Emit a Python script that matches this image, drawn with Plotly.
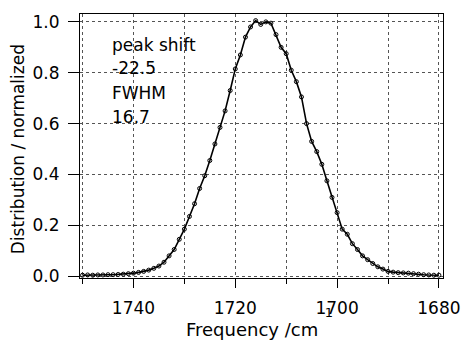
import plotly.graph_objects as go

freq = [1750, 1749, 1748, 1747, 1746, 1745, 1744, 1743, 1742, 1741,
        1740, 1739, 1738, 1737, 1736, 1735, 1734, 1733, 1732, 1731,
        1730, 1729, 1728, 1727, 1726, 1725, 1724, 1723, 1722, 1721,
        1720, 1719, 1718, 1717, 1716, 1715, 1714, 1713, 1712, 1711,
        1710, 1709, 1708, 1707, 1706, 1705, 1704, 1703, 1702, 1701,
        1700, 1699, 1698, 1697, 1696, 1695, 1694, 1693, 1692, 1691,
        1690, 1689, 1688, 1687, 1686, 1685, 1684, 1683, 1682, 1681, 1680]
dist = [0.004, 0.005, 0.004, 0.005, 0.005, 0.006, 0.006, 0.007, 0.008, 0.010,
        0.012, 0.015, 0.019, 0.024, 0.031, 0.040, 0.055, 0.080, 0.105, 0.145,
        0.185, 0.235, 0.285, 0.345, 0.395, 0.455, 0.520, 0.585, 0.650, 0.730,
        0.815, 0.870, 0.940, 0.980, 1.005, 0.990, 1.000, 0.995, 0.950, 0.900,
        0.875, 0.810, 0.765, 0.705, 0.600, 0.530, 0.490, 0.440, 0.375, 0.310,
        0.250, 0.185, 0.165, 0.128, 0.105, 0.080, 0.065, 0.050, 0.037, 0.028,
        0.019, 0.016, 0.014, 0.013, 0.012, 0.010, 0.008, 0.006, 0.005, 0.004, 0.004]

info_lines = ["peak shift", "-22.5", "FWHM", "16.7"]
x_title = "Frequency /cm"
x_title_sup = "-1"
y_title = "Distribution / normalized"

FONT = "DejaVu Sans"
grid = dict(showgrid=True, gridcolor="#555", griddash="dot", gridwidth=1)

fig = go.Figure()
fig.add_trace(go.Scatter(
    x=freq, y=dist, mode="lines+markers",
    line=dict(color="black", width=1.6),
    marker=dict(symbol="circle-open", size=4, color="black", line=dict(width=1)),
    showlegend=False,
))

fig.update_layout(
    width=472, height=343,
    margin=dict(l=80, r=21, t=13, b=65),
    paper_bgcolor="white", plot_bgcolor="white",
    font=dict(family=FONT, size=17, color="black"),
    xaxis=dict(
        range=[1750.5, 1679.2], tick0=1680, dtick=20,
        ticks="outside", ticklen=9, tickcolor="black", ticklabelstandoff=6,
        showline=True, mirror=True, linecolor="black", linewidth=1,
        zeroline=False,
        minor=dict(tick0=1680, dtick=10, ticks="outside", ticklen=5,
                   tickcolor="black", showgrid=True, gridcolor="#555",
                   griddash="dot", gridwidth=1),
        **grid,
    ),
    yaxis=dict(
        range=[-0.007, 1.031], tick0=0, dtick=0.2, tickformat=".1f",
        ticks="outside", ticklen=11, tickcolor="black", ticklabelstandoff=5,
        showline=True, mirror=True, linecolor="black", linewidth=1,
        zeroline=False,
        **grid,
    ),
)

ys = [0.883, 0.794, 0.702, 0.611]
for txt, yy in zip(info_lines, ys):
    fig.add_annotation(text=txt, xref="paper", yref="paper", x=0.084, y=yy,
                       xanchor="left", yanchor="middle", showarrow=False,
                       font=dict(size=17))

fig.add_annotation(text=x_title, xref="paper", yref="paper", x=0.474, y=-0.195,
                   xanchor="center", yanchor="middle", showarrow=False,
                   font=dict(size=18))
fig.add_annotation(text=x_title_sup, xref="paper", yref="paper", x=0.68, y=-0.13,
                   xanchor="center", yanchor="middle", showarrow=False,
                   font=dict(size=13))
fig.add_annotation(text=y_title, xref="paper", yref="paper", x=-0.17, y=0.489,
                   xanchor="center", yanchor="middle", showarrow=False,
                   textangle=-90, font=dict(size=17))

fig.write_html("out.html", config={"displayModeBar": False},
               post_script="document.body.style.margin='0px';")
